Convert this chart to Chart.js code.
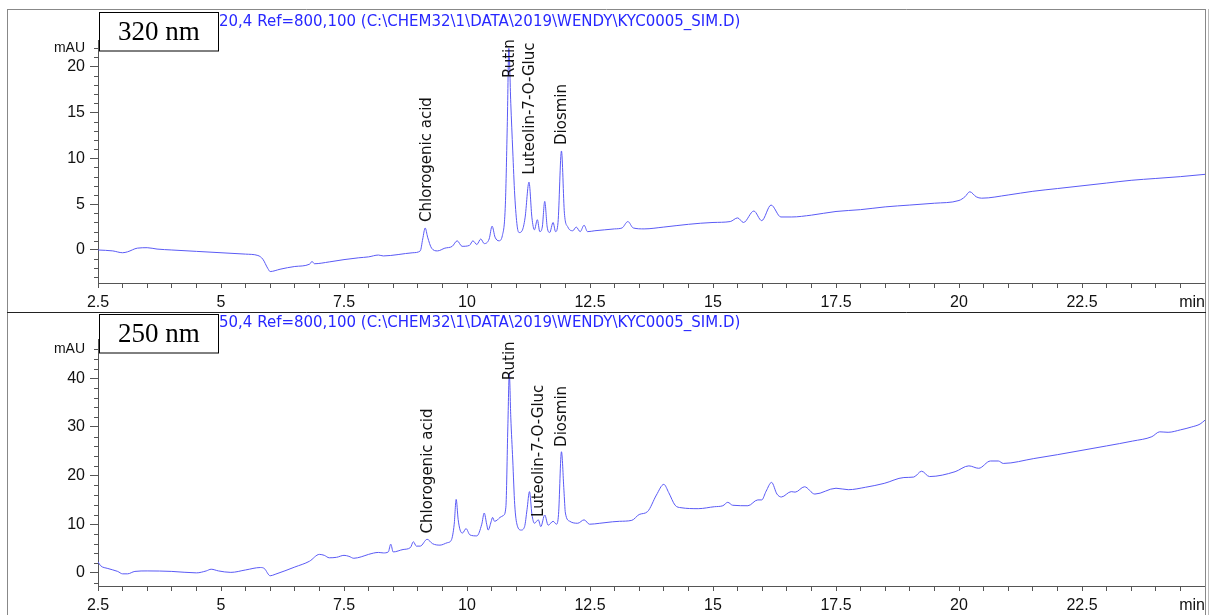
<!DOCTYPE html>
<html lang="en">
<head>
<meta charset="UTF-8" />
<title>Chromatogram 320 nm / 250 nm</title>
<script src="https://cdn.jsdelivr.net/npm/chart.js"></script>
<style>
  html, body { margin: 0; padding: 0; background: #fff; }
  #wrap { position: relative; width: 1219px; height: 615px; overflow: hidden; }
  #wrap canvas { position: absolute; left: 0; }
  #chart320 { top: 0; }
  #chart250 { top: 312px; }
</style>
</head>
<body>
<div id="wrap">
  <canvas id="chart320" width="1219" height="312"></canvas>
  <canvas id="chart250" width="1219" height="303"></canvas>
</div>
<script>
// retention time (min) / absorbance (mAU)
const rt320 = [2.5, 2.8, 3.0, 3.1, 3.3, 3.5, 3.7, 4.0, 4.5, 5.0, 5.5, 5.75, 5.85, 5.95, 6.0, 6.2, 6.5, 6.8, 6.85, 6.9,
  7.2, 7.5, 7.8, 8.0, 8.2, 8.3, 8.6, 8.9, 9.05, 9.1, 9.15, 9.2, 9.28, 9.4, 9.55, 9.7, 9.8, 9.9, 10.05, 10.12,
  10.2, 10.28, 10.35, 10.45, 10.51, 10.57, 10.65, 10.72, 10.78, 10.82, 10.85, 10.89, 10.93, 10.97, 11.02, 11.06, 11.12, 11.18, 11.26, 11.32,
  11.37, 11.43, 11.48, 11.53, 11.58, 11.63, 11.68, 11.75, 11.8, 11.85, 11.92, 11.98, 12.05, 12.15, 12.22, 12.3, 12.38, 12.45, 12.6, 12.8,
  13.0, 13.15, 13.27, 13.38, 13.6, 14.0, 14.5, 15.0, 15.35, 15.5, 15.62, 15.83, 15.99, 16.18, 16.38, 16.6, 17.0, 17.5, 18.0, 18.5,
  19.0, 19.5, 20.0, 20.12, 20.22, 20.35, 20.46, 21.0, 21.5, 22.0, 22.5, 23.0, 23.5, 24.0, 24.5, 25.0];
const au320 = [0.0, -0.1, -0.3, -0.2, 0.2, 0.25, 0.1, 0.0, -0.15, -0.3, -0.45, -0.6, -1.0, -2.0, -2.35, -2.1, -1.8, -1.55, -1.25, -1.5,
  -1.3, -1.05, -0.85, -0.75, -0.55, -0.65, -0.5, -0.3, -0.1, 1.2, 2.4, 1.4, 0.2, -0.1, 0.2, 0.4, 1.0, 0.4, 0.5, 1.0,
  0.6, 1.2, 0.7, 1.2, 2.6, 1.4, 1.0, 1.6, 5.0, 14.0, 22.0, 16.0, 10.8, 6.0, 2.6, 1.9, 2.1, 3.5, 7.4, 3.5,
  2.2, 3.3, 2.0, 2.5, 5.3, 2.5, 1.9, 3.0, 2.0, 3.0, 10.8, 4.0, 2.5, 2.1, 2.5, 2.0, 2.7, 2.0, 2.1, 2.2,
  2.3, 2.4, 3.1, 2.4, 2.3, 2.5, 2.8, 3.0, 3.1, 3.5, 3.0, 4.25, 3.2, 4.9, 3.6, 3.6, 3.8, 4.2, 4.4, 4.7,
  4.9, 5.1, 5.4, 5.8, 6.35, 5.8, 5.65, 6.0, 6.4, 6.7, 7.0, 7.3, 7.6, 7.8, 8.0, 8.25];

const rt250 = [2.5, 2.55, 2.7, 2.9, 3.0, 3.1, 3.25, 3.5, 4.0, 4.5, 4.7, 4.8, 4.95, 5.2, 5.5, 5.8, 5.88, 6.0, 6.1, 6.5,
  6.8, 7.0, 7.1, 7.2, 7.35, 7.5, 7.6, 7.7, 7.85, 8.0, 8.2, 8.3, 8.4, 8.45, 8.5, 8.7, 8.85, 8.91, 8.97, 9.05,
  9.19, 9.3, 9.45, 9.6, 9.68, 9.74, 9.78, 9.82, 9.86, 9.91, 9.98, 10.06, 10.2, 10.3, 10.35, 10.4, 10.43, 10.49, 10.52, 10.56,
  10.62, 10.67, 10.74, 10.79, 10.83, 10.86, 10.89, 10.93, 10.97, 11.02, 11.1, 11.17, 11.22, 11.27, 11.32, 11.37, 11.45, 11.5, 11.58, 11.65,
  11.75, 11.82, 11.86, 11.92, 11.97, 12.0, 12.09, 12.25, 12.38, 12.49, 12.7, 12.96, 13.1, 13.35, 13.5, 13.67, 13.85, 14.0, 14.1, 14.23,
  14.35, 14.7, 15.03, 15.2, 15.3, 15.4, 15.71, 15.91, 15.99, 16.08, 16.19, 16.3, 16.39, 16.59, 16.67, 16.86, 17.07, 17.5, 17.75, 18.1,
  18.48, 18.88, 19.08, 19.24, 19.4, 19.92, 20.2, 20.4, 20.64, 20.8, 20.9, 21.52, 22.0, 22.5, 23.0, 23.53, 23.92, 24.08, 24.25, 24.5,
  24.73, 24.9, 25.0];
const au250 = [2.3, 1.5, 0.9, 0.3, -0.2, -0.2, 0.3, 0.4, 0.3, 0.0, 0.4, 0.75, 0.4, 0.1, 0.6, 1.1, 0.9, -0.6, -0.3, 1.2,
  2.4, 3.8, 3.6, 3.1, 3.2, 3.6, 3.4, 3.0, 3.3, 3.8, 4.2, 4.1, 4.3, 5.9, 4.3, 4.8, 5.2, 6.4, 5.5, 5.5,
  6.9, 6.0, 5.7, 6.2, 6.7, 10.0, 15.1, 11.0, 8.8, 8.2, 9.1, 7.8, 7.6, 10.0, 12.3, 10.0, 8.8, 10.5, 11.4, 10.6,
  10.9, 11.4, 11.8, 13.5, 30.0, 41.0, 32.0, 23.2, 14.0, 9.8, 8.8, 9.5, 13.0, 16.7, 12.0, 10.2, 10.9, 9.5, 11.9, 9.8,
  10.6, 10.0, 12.0, 24.9, 17.0, 12.3, 10.6, 10.2, 10.9, 10.0, 10.2, 10.5, 10.6, 10.8, 12.0, 12.6, 16.0, 18.2, 16.5, 13.9,
  13.4, 13.2, 13.6, 13.8, 14.5, 13.9, 13.8, 15.0, 15.0, 16.8, 18.6, 16.2, 15.6, 16.7, 16.6, 17.7, 16.2, 17.4, 17.1, 17.6,
  18.4, 19.6, 19.7, 20.9, 19.8, 20.8, 22.0, 21.5, 23.0, 23.0, 22.5, 23.5, 24.3, 25.2, 26.1, 27.1, 28.0, 29.0, 28.9, 29.4,
  30.0, 30.6, 31.4];

// peak annotations: name, retention time, mAU where the label text starts
const peakNames = ['Chlorogenic acid', 'Rutin', 'Luteolin-7-O-Gluc', 'Diosmin'];
const peakRt320 = [9.19, 10.87, 11.28, 11.93];
const peakAu320 = [3.05, 18.75, 8.2, 11.45];
const peakRt250 = [9.2, 10.87, 11.47, 11.94];
const peakAu250 = [8.1, 39.6, 11.5, 25.9];

const header320 = '20,4 Ref=800,100 (C:\\CHEM32\\1\\DATA\\2019\\WENDY\\KYC0005_SIM.D)';
const header250 = '50,4 Ref=800,100 (C:\\CHEM32\\1\\DATA\\2019\\WENDY\\KYC0005_SIM.D)';

const AXIS = '#555';
const TRACE = '#5a5af5';
const TICK_FONT = 'Liberation Sans';

function makePanel(canvasId, p) {
  const points = p.rt.map((t, i) => ({ x: t, y: p.au[i] }));

  // frame, header, wavelength box, peak names, minor y ticks
  const decor = {
    id: 'decor',
    afterDatasetsDraw(chart) {
      const { ctx, scales: { x, y } } = chart;
      ctx.save();
      ctx.fillStyle = '#111';
      ctx.font = '15px "DejaVu Sans"';
      ctx.textAlign = 'left';
      ctx.textBaseline = 'middle';
      p.names.forEach((name, i) => {
        const px = x.getPixelForValue(p.peakRt[i]);
        const py = y.getPixelForValue(p.peakAu[i]);
        ctx.save();
        ctx.translate(px, py);
        ctx.rotate(-Math.PI / 2);
        ctx.fillText(name, 0, 0);
        ctx.restore();
      });
      ctx.restore();
    },
    afterDraw(chart) {
      const { ctx, scales: { x, y } } = chart;
      const H = chart.height;
      ctx.save();
      ctx.lineWidth = 1;

      // minor ticks on the mAU axis
      ctx.strokeStyle = AXIS;
      y.ticks.forEach(t => {
        if (t.value % p.major === 0 && t.value !== p.unitAt) return;
        const py = Math.round(y.getPixelForValue(t.value)) + 0.5;
        ctx.beginPath();
        ctx.moveTo(x.left - 4, py);
        ctx.lineTo(x.left, py);
        ctx.stroke();
      });

      // "min" at the right end of the time axis
      ctx.fillStyle = '#111';
      ctx.font = '16px "' + TICK_FONT + '"';
      ctx.textAlign = 'right';
      ctx.textBaseline = 'middle';
      ctx.fillText('min', x.right, x.top + 5 + 5 + 9.6);

      // outer frame
      ctx.strokeStyle = '#888';
      ctx.beginPath();
      ctx.moveTo(7.5, p.frameTop);
      ctx.lineTo(7.5, H);
      ctx.stroke();
      ctx.beginPath();
      ctx.moveTo(1205.5, p.frameTop);
      ctx.lineTo(1205.5, H);
      ctx.stroke();
      ctx.strokeStyle = '#bbb';
      ctx.beginPath();
      ctx.moveTo(1208.5, p.frameTop);
      ctx.lineTo(1208.5, H);
      ctx.stroke();
      ctx.strokeStyle = p.frameColor;
      ctx.beginPath();
      ctx.moveTo(7, p.frameTop + 0.5);
      ctx.lineTo(1206, p.frameTop + 0.5);
      ctx.stroke();

      // signal description
      ctx.fillStyle = '#2828ff';
      ctx.font = '15px "DejaVu Sans"';
      ctx.textAlign = 'left';
      ctx.textBaseline = 'alphabetic';
      ctx.fillText(p.header, 219, p.headerBase);

      // wavelength box
      ctx.fillStyle = '#fff';
      ctx.fillRect(99.5, p.boxTop, 119, 38.5);
      ctx.strokeStyle = '#000';
      ctx.strokeRect(99.5, p.boxTop, 119, 38.5);
      ctx.fillStyle = '#000';
      ctx.font = '27px "Liberation Serif"';
      ctx.textAlign = 'center';
      ctx.textBaseline = 'middle';
      ctx.fillText(p.boxText, 159, p.boxTop + 20);
      ctx.restore();
    }
  };

  return new Chart(document.getElementById(canvasId), {
    type: 'line',
    data: {
      datasets: [{
        data: points,
        borderColor: TRACE,
        borderWidth: 1,
        pointRadius: 0,
        cubicInterpolationMode: 'monotone',
        fill: false
      }]
    },
    options: {
      responsive: false,
      animation: false,
      devicePixelRatio: 1,
      layout: { padding: { left: 0, right: 14, top: p.padTop, bottom: 0 } },
      plugins: { legend: { display: false }, tooltip: { enabled: false } },
      scales: {
        x: {
          type: 'linear',
          min: 2.5,
          max: 25,
          afterFit(scale) { scale.height = 29; },
          ticks: {
            stepSize: 0.5,
            autoSkip: false,
            maxRotation: 0,
            padding: 5,
            color: '#111',
            font: { family: TICK_FONT, size: 16 },
            callback: v => (v % 2.5 === 0 && v < 25 ? String(v) : '')
          },
          grid: { drawOnChartArea: false, drawTicks: true, tickLength: 5, tickColor: AXIS },
          border: { display: true, color: AXIS, width: 1 }
        },
        y: {
          min: p.yMin,
          max: p.yMax,
          afterFit(scale) { scale.width = 98; },
          afterBuildTicks(scale) {
            const ticks = [];
            for (let v = p.firstTick; v <= p.unitAt; v += p.step) ticks.push({ value: v });
            scale.ticks = ticks;
          },
          ticks: {
            autoSkip: false,
            padding: 5,
            color: '#111',
            font: ctx => ({ family: TICK_FONT, size: ctx.tick && ctx.tick.value === p.unitAt ? 14 : 16 }),
            callback: v => (v === p.unitAt ? 'mAU' : (v % p.major === 0 ? String(v) : ''))
          },
          grid: {
            drawOnChartArea: false,
            drawTicks: true,
            tickLength: 8,
            tickColor: ctx => (ctx.tick && ctx.tick.value % p.major === 0 && ctx.tick.value !== p.unitAt ? AXIS : 'rgba(0,0,0,0)')
          },
          border: { display: true, color: AXIS, width: 1 }
        }
      }
    },
    plugins: [decor]
  });
}

makePanel('chart320', {
  rt: rt320, au: au320,
  names: peakNames, peakRt: peakRt320, peakAu: peakAu320,
  yMin: -3.6, yMax: 22.9, firstTick: -3, step: 1, major: 5, unitAt: 22,
  padTop: 40, frameTop: 9, frameColor: '#888',
  header: header320, headerBase: 25.5, boxTop: 12.5, boxText: '320 nm'
});

makePanel('chart250', {
  rt: rt250, au: au250,
  names: peakNames, peakRt: peakRt250, peakAu: peakAu250,
  yMin: -2.7, yMax: 48, firstTick: -2, step: 2, major: 10, unitAt: 46,
  padTop: 27.4, frameTop: 0, frameColor: '#222',
  header: header250, headerBase: 15, boxTop: 2.5, boxText: '250 nm'
});
</script>
</body>
</html>
